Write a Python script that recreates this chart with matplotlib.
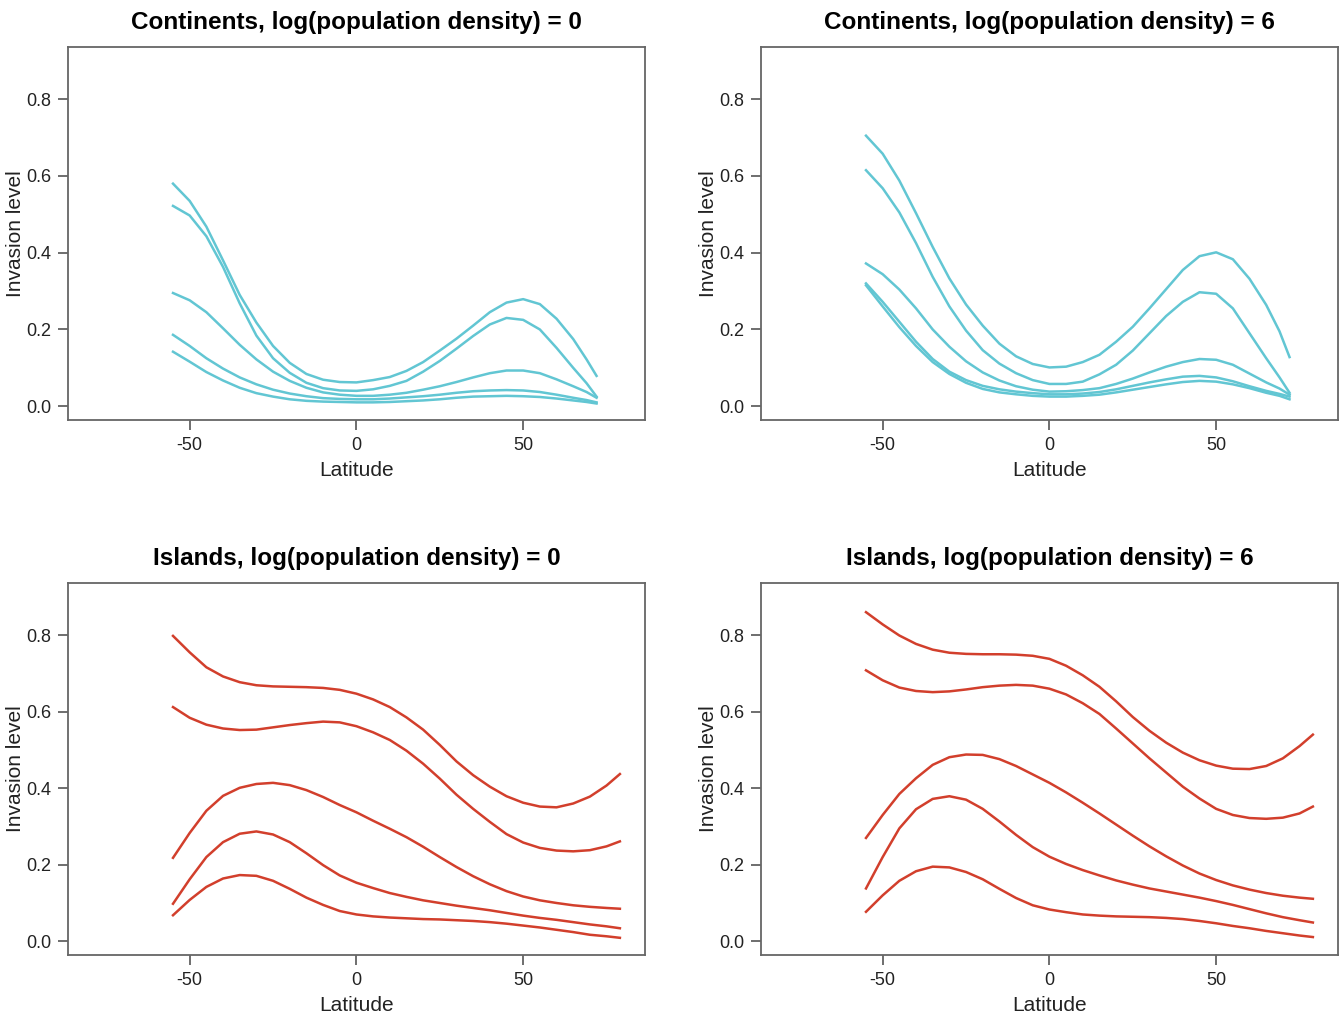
import numpy as np
import matplotlib
matplotlib.use('Agg')
import matplotlib.pyplot as plt

plt.rcParams['font.family'] = ['Liberation Sans', 'DejaVu Sans']

# latitude grids
lat_cont = [-55, -50, -45, -40, -35, -30, -25, -20, -15, -10, -5, 0, 5, 10,
            15, 20, 25, 30, 35, 40, 45, 50, 55, 60, 65, 69, 72]
lat_isl = [-55, -50, -45, -40, -35, -30, -25, -20, -15, -10, -5, 0, 5, 10,
           15, 20, 25, 30, 35, 40, 45, 50, 55, 60, 65, 70, 75, 79]

# continents, log(pop density) = 0
cont0 = [
    [.58, .535, .468, .38, .29, .218, .157, .113, .084, .069, .063, .062, .068, .076,
     .092, .115, .145, .176, .21, .245, .27, .279, .266, .228, .175, .122, .079],
    [.522, .497, .443, .363, .268, .184, .125, .087, .061, .047, .041, .040, .044, .053,
     .066, .09, .118, .15, .183, .213, .23, .225, .2, .152, .1, .06, .025],
    [.295, .276, .245, .203, .16, .122, .09, .066, .048, .036, .03, .027, .027, .03,
     .035, .043, .052, .063, .075, .086, .093, .093, .086, .07, .052, .037, .022],
    [.186, .157, .125, .098, .075, .057, .043, .033, .026, .021, .019, .018, .018, .02,
     .023, .026, .03, .035, .039, .041, .042, .041, .037, .03, .022, .016, .01],
    [.142, .116, .089, .067, .048, .034, .025, .018, .014, .012, .011, .01, .01, .011,
     .013, .015, .018, .022, .025, .026, .027, .026, .024, .02, .015, .011, .007],
]
# continents, log(pop density) = 6
cont6 = [
    [.705, .658, .588, .503, .415, .333, .265, .21, .163, .13, .11, .101, .103, .115,
     .134, .168, .207, .255, .305, .355, .391, .401, .383, .332, .264, .195, .128],
    [.615, .568, .505, .425, .337, .26, .197, .146, .111, .086, .068, .058, .058, .064,
     .083, .108, .145, .19, .235, .272, .297, .293, .255, .19, .125, .075, .035],
    [.372, .344, .304, .255, .2, .155, .117, .088, .067, .052, .043, .038, .039, .042,
     .047, .058, .072, .088, .103, .115, .123, .121, .108, .085, .062, .046, .03],
    [.32, .272, .22, .168, .123, .09, .068, .053, .044, .038, .034, .031, .031, .033,
     .037, .044, .053, .062, .07, .077, .079, .075, .065, .052, .04, .032, .025],
    [.315, .26, .206, .157, .115, .084, .061, .045, .036, .031, .027, .025, .025, .027,
     .03, .036, .043, .05, .057, .063, .066, .064, .057, .047, .035, .027, .018],
]
# islands, log(pop density) = 0
isl0 = [
    [.798, .755, .716, .692, .677, .669, .666, .665, .664, .662, .657, .647, .632, .612,
     .585, .553, .513, .47, .434, .404, .379, .362, .352, .35, .36, .378, .407, .437],
    [.612, .584, .566, .556, .552, .553, .559, .565, .57, .574, .572, .562, .546, .526,
     .498, .464, .425, .383, .346, .312, .28, .258, .244, .237, .235, .238, .248, .261],
    [.218, .283, .341, .38, .401, .411, .414, .408, .395, .377, .356, .337, .315, .294,
     .272, .247, .22, .194, .17, .149, .131, .117, .107, .1, .094, .09, .087, .085],
    [.098, .162, .22, .259, .281, .287, .279, .259, .23, .199, .172, .153, .139, .126,
     .116, .107, .1, .093, .087, .081, .074, .067, .061, .056, .05, .044, .039, .034],
    [.068, .108, .142, .164, .173, .171, .158, .137, .114, .095, .079, .07, .065, .062,
     .06, .058, .057, .055, .053, .05, .046, .041, .036, .03, .024, .017, .013, .009],
]
# islands, log(pop density) = 6
isl6 = [
    [.86, .828, .799, .777, .762, .754, .751, .75, .75, .749, .746, .738, .72, .695,
     .665, .627, .586, .55, .519, .493, .473, .459, .451, .45, .458, .478, .51, .54],
    [.708, .682, .663, .654, .651, .653, .658, .664, .668, .67, .668, .66, .645, .622,
     .594, .556, .517, .478, .441, .404, .373, .346, .33, .322, .32, .323, .334, .352],
    [.27, .33, .385, .426, .461, .481, .488, .487, .476, .458, .436, .414, .389, .362,
     .334, .305, .276, .248, .222, .198, .177, .16, .146, .135, .126, .119, .114, .111],
    [.138, .22, .295, .345, .372, .379, .37, .346, .313, .278, .246, .221, .202, .186,
     .172, .159, .148, .138, .13, .122, .114, .105, .095, .084, .073, .063, .055, .049],
    [.077, .12, .158, .183, .195, .193, .181, .162, .137, .113, .094, .083, .076, .07,
     .067, .065, .064, .063, .061, .058, .053, .047, .04, .034, .027, .021, .015, .011],
]

panels = [
    ('Continents, log(population density) = 0', lat_cont, cont0, '#62c6d3'),
    ('Continents, log(population density) = 6', lat_cont, cont6, '#62c6d3'),
    ('Islands, log(population density) = 0', lat_isl, isl0, '#d23f2c'),
    ('Islands, log(population density) = 6', lat_isl, isl6, '#d23f2c'),
]

fig = plt.figure(figsize=(13.43, 10.16), dpi=100)
boxes = [
    [0.0506, 0.5866, 0.4296, 0.3671],
    [0.5666, 0.5866, 0.4296, 0.3671],
    [0.0506, 0.0600, 0.4296, 0.3661],
    [0.5666, 0.0600, 0.4296, 0.3661],
]

for box, (title, lat, curves, col) in zip(boxes, panels):
    ax = fig.add_axes(box)
    for y in curves:
        ax.plot(lat, y, color=col, lw=1.8, solid_joinstyle='round')
    ax.set_xlim(-86.5, 86.5)
    ax.set_ylim(-0.036, 0.936)
    ax.set_xticks([-50, 0, 50])
    ax.set_xticklabels(['-50', '0', '50'])
    ax.set_yticks([0, 0.2, 0.4, 0.6, 0.8])
    ax.set_yticklabels(['0.0', '0.2', '0.4', '0.6', '0.8'])
    ax.tick_params(length=7, width=1.2, color='#555555', labelsize=13,
                   labelcolor='#222222', pad=5)
    for s in ax.spines.values():
        s.set_color('#666666')
        s.set_linewidth(1.3)
    ax.set_title(title, fontsize=17.5, fontweight='bold', pad=13)
    ax.set_xlabel('Latitude', fontsize=15, color='#222222', labelpad=5)
    ax.set_ylabel('Invasion level', fontsize=15, color='#222222', labelpad=1)

fig.savefig('out.png', dpi=100)
